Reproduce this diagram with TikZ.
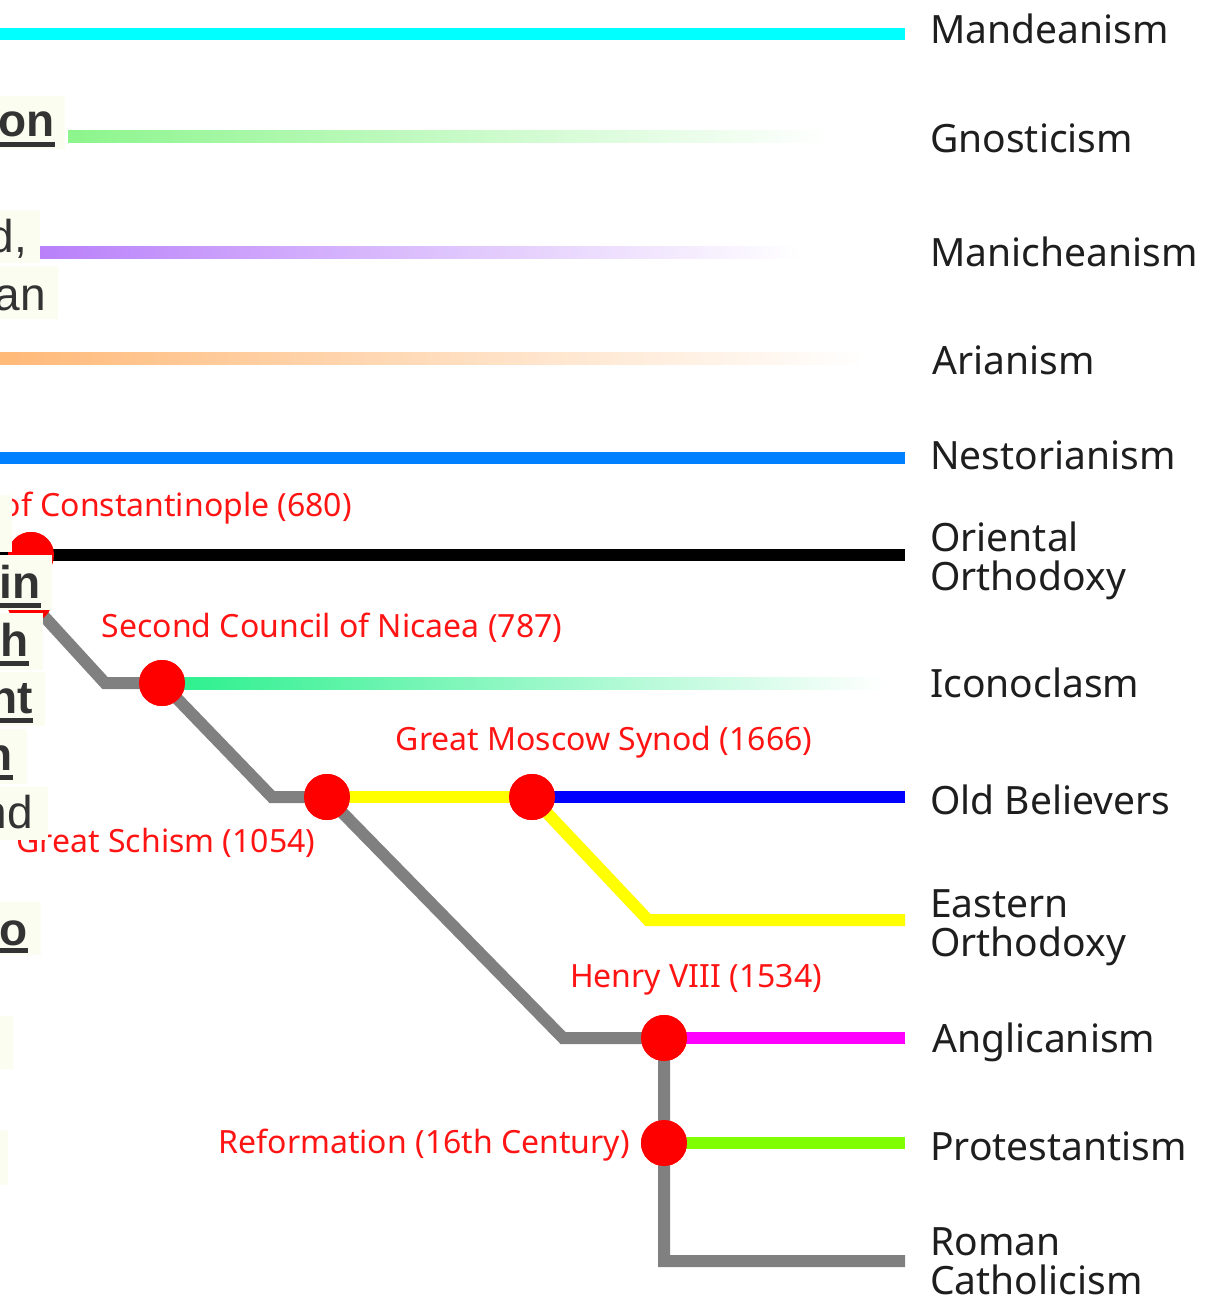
\documentclass[tikz,border=0pt]{standalone}
\usepackage{fontspec}
\setmainfont{Noto Sans}
\newfontfamily\boxfont{Liberation Sans}
\definecolor{boxbg}{RGB}{251,253,240}
\definecolor{boxtext}{RGB}{51,51,51}
\definecolor{lbltext}{RGB}{30,30,30}
\definecolor{mandc}{RGB}{0,255,255}
\definecolor{gnosc}{RGB}{140,245,140}
\definecolor{manic}{RGB}{185,128,250}
\definecolor{arianc}{RGB}{255,185,120}
\definecolor{nestc}{RGB}{0,128,255}
\definecolor{iconc}{RGB}{40,240,140}
\definecolor{trunkc}{RGB}{128,128,128}
\definecolor{protc}{RGB}{128,255,0}
\definecolor{anglc}{RGB}{255,0,255}
\definecolor{eastc}{RGB}{255,255,0}
\definecolor{oldc}{RGB}{0,0,255}
\definecolor{dotc}{RGB}{255,0,0}
\definecolor{evtred}{RGB}{255,20,20}
\begin{document}
\begin{tikzpicture}[x=1pt,y=-1pt,
  track/.style={line width=12pt},
  dot/.style={circle, fill=dotc, minimum size=46pt, inner sep=0pt},
  rlabel/.style={anchor=base west, text=lbltext, font=\fontsize{39}{39}\selectfont, align=left, inner sep=0pt},
  evt/.style={anchor=base, text=evtred, font=\fontsize{32}{34}\selectfont, inner sep=0pt},
  lbox/.style={fill=boxbg},
  ltext/.style={anchor=base east, text=boxtext, font=\boxfont\bfseries\fontsize{46}{50}\selectfont, inner sep=0pt},
  ltextr/.style={anchor=base east, text=boxtext, font=\boxfont\fontsize{46}{50}\selectfont, inner sep=0pt},
  uline/.style={draw=boxtext, line width=4.5pt}
]
\useasboundingbox (0,0) rectangle (1216,1305);
\clip (0,0) rectangle (1216,1305);

% ---- coordinates
\coordinate (mandL) at (0,34);   \coordinate (mandR) at (905,34);
\coordinate (nestL) at (0,458);  \coordinate (nestR) at (905,458);
\coordinate (orL) at (0,555);    \coordinate (orR) at (905,555);
\coordinate (g1) at (105,683);
\coordinate (g2) at (272,797);
\coordinate (g3) at (563,1038);
\coordinate (g4) at (664,1261);
\coordinate (rcR) at (905,1261);
\coordinate (obR) at (905,797);
\coordinate (y1) at (648,920);
\coordinate (eoR) at (905,920);
\coordinate (anR) at (905,1038);
\coordinate (prR) at (905,1143);

% ---- event dots (placed first for names)
\node[dot] (c0) at (29,600) {};
\node[dot] (c680) at (31,555) {};
\node[dot] (nicaea) at (162,683) {};
\node[dot] (schism) at (327,797) {};
\node[dot] (moscow) at (532,797) {};
\node[dot] (henry) at (664,1038) {};
\node[dot] (reform) at (664,1143) {};

% ---- lines
\draw[track, mandc] (mandL) -- (mandR);
\shade[left color=gnosc, right color=white] (68,131) rectangle (830,143);
\shade[left color=manic, right color=white] (40,247) rectangle (800,259);
\shade[left color=arianc, right color=white] (0,352) rectangle (865,364);
\draw[track, nestc] (nestL) -- (nestR);
\draw[track, black] (orL) -- (orR);
\shade[left color=iconc, right color=white] (162,677) rectangle (885,689);
\draw[track, trunkc] (c0.center) -- (g1) -- (nicaea.center) -- (g2) -- (schism.center) -- (g3) -- (henry.center) -- (reform.center) -- (g4) -- (rcR);
\draw[track, eastc] (schism.center) -- (moscow.center);
\draw[track, eastc] (moscow.center) -- (y1) -- (eoR);
\draw[track, oldc] (moscow.center) -- (obR);
\draw[track, anglc] (henry.center) -- (anR);
\draw[track, protc] (reform.center) -- (prR);

% ---- redraw dots on top
\foreach \d in {c0,c680,nicaea,schism,moscow,henry,reform}
  \fill[dotc] (\d.center) circle (23pt);

% ---- event labels
\node[evt, anchor=base east] (l680) at (352,516) {of Constantinople (680)};
\node[evt] (l787) at (332,637) {Second Council of Nicaea (787)};
\node[evt] (l1666) at (604,750) {Great Moscow Synod (1666)};
\node[evt] (l1054) at (166,852) {Great Schism (1054)};
\node[evt] (l1534) at (696,987) {Henry VIII (1534)};
\node[evt, anchor=base east] (l1517) at (630,1153) {Reformation (16th Century)};

% ---- right labels
\node[rlabel] (tMand) at (930,44) {Mandeanism};
\node[rlabel] (tGnos) at (930,153) {Gnosticism};
\node[rlabel] (tMani) at (930,267) {Manicheanism};
\node[rlabel] (tAri) at (932,374) {Arianism};
\node[rlabel] (tNest) at (930,469) {Nestorianism};
\node[rlabel] (tOr) at (930,590) {Oriental\\Orthodoxy};
\node[rlabel] (tIcon) at (930,697) {Iconoclasm};
\node[rlabel] (tOld) at (930,814) {Old Believers};
\node[rlabel] (tEast) at (930,956) {Eastern\\Orthodoxy};
\node[rlabel] (tAng) at (932,1052) {Anglicanism};
\node[rlabel] (tProt) at (930,1160) {Protestantism};
\node[rlabel] (tRom) at (930,1294) {Roman\\Catholicism};

% ---- left (cut-off) text boxes
\fill[lbox] (0,96) rectangle (65,149);
\node[ltext] (b1) at (55,137) {on};
\draw[uline] (0,144.5) -- (b1.base east |- 0,144.5);
\fill[lbox] (0,210) rectangle (40,263);
\node[ltextr] (b2) at (27,253) {d,};
\fill[lbox] (0,266) rectangle (58,319);
\node[ltextr] (b3) at (46,310) {an};
\fill[lbox] (0,495) rectangle (12,552);
\fill[lbox] (0,555) rectangle (52,610);
\node[ltext] (b4) at (41,598) {in};
\draw[uline] (0,605.5) -- (b4.base east |- 0,605.5);
\fill[lbox] (0,613) rectangle (43,670);
\node[ltext] (b5) at (29,656) {h};
\draw[uline] (0,663.5) -- (b5.base east |- 0,663.5);
\fill[lbox] (0,672) rectangle (45,726);
\node[ltext] (b6) at (33,713) {nt};
\draw[uline] (0,720.5) -- (b6.base east |- 0,720.5);
\fill[lbox] (0,729) rectangle (27,784);
\node[ltext] (b7) at (13,770) {n};
\draw[uline] (0,777.5) -- (b7.base east |- 0,777.5);
\fill[lbox] (0,787) rectangle (48,840);
\node[ltextr] (b8) at (33,828) {nd};
\fill[lbox] (0,902) rectangle (41,955);
\node[ltext] (b9) at (28,945) {o};
\draw[uline] (0,950.5) -- (b9.base east |- 0,950.5);
\fill[lbox] (0,1016) rectangle (13,1069);
\fill[lbox] (0,1130) rectangle (8,1185);
\end{tikzpicture}
\end{document}
